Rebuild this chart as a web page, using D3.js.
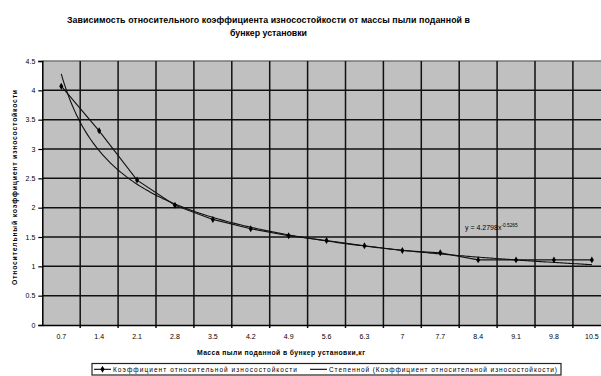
<!DOCTYPE html>
<html>
<head>
<meta charset="utf-8">
<script src="https://cdn.jsdelivr.net/npm/d3@7"></script>
<style>
  body { margin: 0; background: #fff; }
  svg { display: block; font-family: "Liberation Sans", Arial, sans-serif; }
</style>
</head>
<body>
<script>
// chart data
const categories = ['0.7', '1.4', '2.1', '2.8', '3.5', '4.2', '4.9', '5.6', '6.3', '7', '7.7', '8.4', '9.1', '9.8', '10.5'];
const wearValues = [4.07, 3.31, 2.47, 2.04, 1.80, 1.64, 1.52, 1.44, 1.35, 1.27, 1.23, 1.11, 1.11, 1.11, 1.11];
const yTicks = [0, 0.5, 1, 1.5, 2, 2.5, 3, 3.5, 4, 4.5];
// power trendline as printed on the chart (x = category index 1..n)
const trendA = 4.2798;
const trendB = -0.5265;

const W = 601, H = 376;
const plotLeft = 42.3, plotTop = 61, plotBottom = 325;
const bandW = 37.9;
const plotRight = plotLeft + bandW * categories.length;

const svg = d3.select('body').append('svg').attr('width', W).attr('height', H);

const x = d3.scaleBand().domain(categories).range([plotLeft, plotRight]).padding(0);
const y = d3.scaleLinear().domain([0, 4.5]).range([plotBottom, plotTop]);
const xIdx = d3.scaleLinear().domain([1, categories.length])
  .range([x(categories[0]) + bandW / 2, x(categories[categories.length - 1]) + bandW / 2]);

// title
svg.append('text')
  .attr('x', 67).attr('y', 23)
  .attr('font-size', 8.8).attr('font-weight', 'bold')
  .attr('textLength', 403).attr('lengthAdjust', 'spacing')
  .text('Зависимость относительного коэффициента износостойкости от массы пыли поданной в');
svg.append('text')
  .attr('x', 230).attr('y', 36)
  .attr('font-size', 8.8).attr('font-weight', 'bold')
  .attr('textLength', 77).attr('lengthAdjust', 'spacing')
  .text('бункер установки');

// plot background
svg.append('rect')
  .attr('x', plotLeft).attr('y', plotTop)
  .attr('width', plotRight - plotLeft).attr('height', plotBottom - plotTop)
  .attr('fill', '#c0c0c0');

// horizontal grid
svg.append('g')
  .selectAll('line')
  .data(yTicks.filter((d) => d > 0))
  .join('line')
  .attr('x1', plotLeft).attr('x2', plotRight)
  .attr('y1', (d) => y(d)).attr('y2', (d) => y(d))
  .attr('stroke', (d) => (d === 4.5 ? '#777' : '#111'))
  .attr('stroke-width', 1.5);

// vertical grid at category boundaries
svg.append('g')
  .selectAll('line')
  .data(categories.slice(1))
  .join('line')
  .attr('x1', (d) => x(d)).attr('x2', (d) => x(d))
  .attr('y1', plotTop).attr('y2', plotBottom + 3)
  .attr('stroke', '#111')
  .attr('stroke-width', 1.5);

// y axis
const yAxis = svg.append('g')
  .attr('transform', `translate(${plotLeft},0)`)
  .call(d3.axisLeft(y).tickValues(yTicks).tickSize(4).tickPadding(3).tickFormat((d) => String(d)));
yAxis.select('.domain').attr('stroke', '#000').attr('stroke-width', 1.5);
yAxis.selectAll('.tick line').attr('stroke', '#000').attr('stroke-width', 1.2);
yAxis.selectAll('.tick text').attr('font-size', 7).attr('font-family', 'Liberation Sans, Arial, sans-serif').attr('fill', '#000');

// x axis
const xAxis = svg.append('g')
  .attr('transform', `translate(0,${plotBottom})`)
  .call(d3.axisBottom(x).tickSize(0).tickPadding(9));
xAxis.select('.domain').attr('stroke', '#000').attr('stroke-width', 1.5);
xAxis.selectAll('.tick text').attr('font-size', 7).attr('font-family', 'Liberation Sans, Arial, sans-serif').attr('fill', '#000');

// axis titles
svg.append('text')
  .attr('x', 197).attr('y', 355)
  .attr('font-size', 6.8).attr('font-weight', 'bold')
  .attr('textLength', 168).attr('lengthAdjust', 'spacing')
  .text('Масса пыли поданной в бункер установки,кг');
svg.append('text')
  .attr('transform', `translate(17,285) rotate(-90)`)
  .attr('font-size', 6.8).attr('font-weight', 'bold')
  .attr('textLength', 195).attr('lengthAdjust', 'spacing')
  .text('Относительный коэффициент износостойкости');

// trendline
const trendPts = d3.range(1, categories.length + 0.001, 0.05).map((i) => [i, trendA * Math.pow(i, trendB)]);
svg.append('path')
  .datum(trendPts)
  .attr('fill', 'none')
  .attr('stroke', '#111')
  .attr('stroke-width', 1.1)
  .attr('d', d3.line().x((d) => xIdx(d[0])).y((d) => y(d[1])));

// data series
const pts = categories.map((c, i) => ({ c, v: wearValues[i] }));
svg.append('path')
  .datum(pts)
  .attr('fill', 'none')
  .attr('stroke', '#111')
  .attr('stroke-width', 1.1)
  .attr('d', d3.line().x((d) => x(d.c) + bandW / 2).y((d) => y(d.v)));

svg.append('g')
  .selectAll('path')
  .data(pts)
  .join('path')
  .attr('transform', (d) => `translate(${x(d.c) + bandW / 2},${y(d.v)})`)
  .attr('d', d3.symbol(d3.symbolDiamond, 14)())
  .attr('fill', '#000');

// equation label
const eq = svg.append('text')
  .attr('x', 465).attr('y', 230)
  .attr('font-size', 7)
  .text('y = 4.2798x');
eq.append('tspan').attr('dy', -3).attr('font-size', 4.8).text('-0.5265');

// legend
const lg = svg.append('g');
lg.append('rect')
  .attr('x', 92).attr('y', 363.5)
  .attr('width', 469).attr('height', 11.5)
  .attr('fill', '#fff').attr('stroke', '#222').attr('stroke-width', 1.2);
lg.append('line').attr('x1', 94).attr('x2', 111).attr('y1', 369.3).attr('y2', 369.3)
  .attr('stroke', '#000').attr('stroke-width', 1.1);
lg.append('path').attr('transform', 'translate(102.5,369.3)')
  .attr('d', d3.symbol(d3.symbolDiamond, 14)()).attr('fill', '#000');
lg.append('text').attr('x', 113).attr('y', 371.8)
  .attr('font-size', 6.5)
  .attr('textLength', 184).attr('lengthAdjust', 'spacing')
  .text('Коэффициент относительной износостойкости');
lg.append('line').attr('x1', 310).attr('x2', 327).attr('y1', 369.3).attr('y2', 369.3)
  .attr('stroke', '#000').attr('stroke-width', 1.1);
lg.append('text').attr('x', 329).attr('y', 371.8)
  .attr('font-size', 6.5)
  .attr('textLength', 228).attr('lengthAdjust', 'spacing')
  .text('Степенной (Коэффициент относительной износостойкости)');
</script>
</body>
</html>
